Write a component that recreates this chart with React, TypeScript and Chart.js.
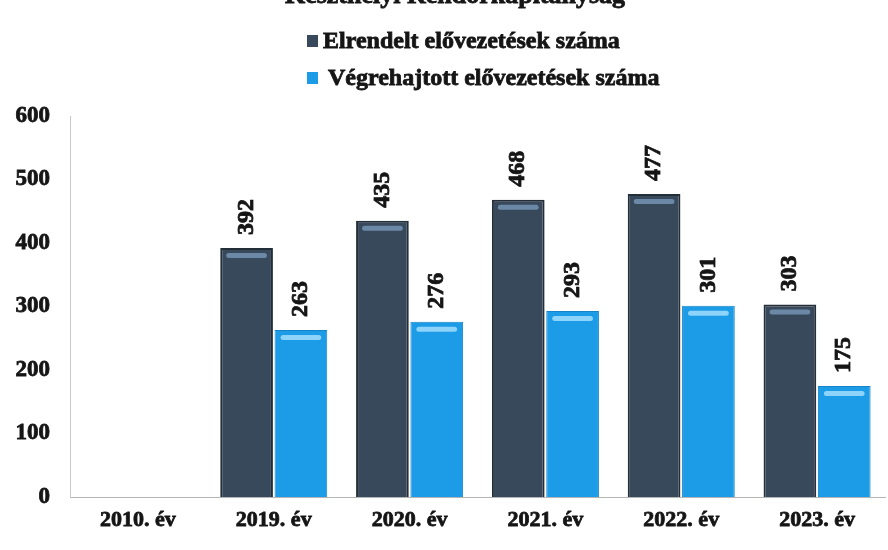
import React, { useEffect, useRef } from "react";
import { Chart, registerables } from "chart.js";

Chart.register(...registerables);

const categories = ["2010. év", "2019. év", "2020. év", "2021. év", "2022. év", "2023. év"];
const ordered = [null, 392, 435, 468, 477, 303];
const executed = [null, 263, 276, 293, 301, 175];
const seriesNames = ["Elrendelt elővezetések száma", "Végrehajtott elővezetések száma"];
const titleText = "Keszthelyi Rendőrkapitányság";
const yTicks = [0, 100, 200, 300, 400, 500, 600];

const DARK = "#38495b";
const DARK_BORDER = "#242e38";
const BLUE = "#1c9be6";
const BLUE_BORDER = "#1685c8";
const FONT = "'Liberation Serif', 'Times New Roman', serif";
const INK = "#151515";

function boldText(ctx: any, text: string, x: number, y: number) {
  ctx.lineWidth = 0.8;
  ctx.strokeStyle = INK;
  ctx.strokeText(text, x, y);
  ctx.fillText(text, x, y);
}

const decorPlugin = {
  id: "decor",
  afterDatasetsDraw(chart: any) {
    const ctx = chart.ctx;
    chart.data.datasets.forEach((ds: any, di: number) => {
      const meta = chart.getDatasetMeta(di);
      meta.data.forEach((bar: any, i: number) => {
        const v = ds.data[i];
        if (v === null || v === undefined) return;
        const w = bar.width;
        ctx.save();
        ctx.fillStyle = di === 0 ? "rgba(130,165,200,0.7)" : "rgba(170,225,255,0.8)";
        ctx.beginPath();
        ctx.roundRect(bar.x - w / 2 + 6, bar.y + 5, w - 12, 5, 2.5);
        ctx.fill();
        ctx.restore();
        ctx.save();
        ctx.translate(bar.x, bar.y - 13);
        ctx.rotate(-Math.PI / 2);
        ctx.font = `bold 24px ${FONT}`;
        ctx.fillStyle = INK;
        ctx.textAlign = "left";
        ctx.textBaseline = "middle";
        boldText(ctx, String(v), 0, 0);
        ctx.restore();
      });
    });
  },
  afterDraw(chart: any) {
    const ctx = chart.ctx;
    ctx.save();
    ctx.font = `bold 26px ${FONT}`;
    ctx.fillStyle = INK;
    ctx.textAlign = "center";
    ctx.textBaseline = "alphabetic";
    boldText(ctx, titleText, 455, 3);
    ctx.font = `bold 24px ${FONT}`;
    const lx = 307;
    const rows = [48, 85];
    chart.data.datasets.forEach((ds: any, di: number) => {
      const base = rows[di];
      ctx.fillStyle = ds.backgroundColor;
      ctx.fillRect(lx, base - 13, 11, 12);
      ctx.fillStyle = INK;
      ctx.textAlign = "left";
      boldText(ctx, ds.label, lx + 16 + (di === 1 ? 5 : 0), base);
    });
    ctx.restore();
  },
};

export default function App() {
  const ref = useRef<HTMLCanvasElement>(null);
  useEffect(() => {
    if (!ref.current) return;
    const chart = new Chart(ref.current, {
      type: "bar",
      data: {
        labels: categories,
        datasets: [
          {
            label: seriesNames[0],
            data: ordered,
            backgroundColor: DARK,
            borderColor: DARK_BORDER,
            borderWidth: 2,
            barPercentage: 0.97,
            categoryPercentage: 0.8,
          },
          {
            label: seriesNames[1],
            data: executed,
            backgroundColor: BLUE,
            borderColor: BLUE_BORDER,
            borderWidth: 1,
            barPercentage: 0.97,
            categoryPercentage: 0.8,
          },
        ] as any,
      },
      options: {
        responsive: false,
        animation: false,
        layout: { padding: { top: 116, left: 8, right: 3, bottom: 0 } },
        plugins: {
          legend: { display: false },
          title: { display: false },
          tooltip: { enabled: false },
        },
        scales: {
          x: {
            grid: { display: false, drawTicks: false },
            border: { display: true, color: "#b5b5b5", width: 1 },
            afterFit: (axis: any) => {
              axis.height = 53;
            },
            ticks: {
              padding: 10,
              color: INK,
              textStrokeColor: INK,
              textStrokeWidth: 0.8,
              font: { family: FONT, size: 22, weight: "bold" },
            },
          },
          y: {
            min: 0,
            max: 600,
            afterBuildTicks: (axis: any) => {
              axis.ticks = yTicks.map((v) => ({ value: v }));
            },
            afterFit: (axis: any) => {
              axis.width = 62;
            },
            grid: { display: false, drawTicks: false },
            border: { display: true, color: "#c8c8c8", width: 1 },
            ticks: {
              padding: 20,
              color: INK,
              textStrokeColor: INK,
              textStrokeWidth: 0.8,
              font: { family: FONT, size: 23, weight: "bold" },
            },
          },
        },
      },
      plugins: [decorPlugin],
    });
    return () => chart.destroy();
  }, []);
  return (
    <div style={{ position: "absolute", left: 0, top: 0, width: 888, height: 550, background: "#fff" }}>
      <canvas ref={ref} width={888} height={550} />
    </div>
  );
}
